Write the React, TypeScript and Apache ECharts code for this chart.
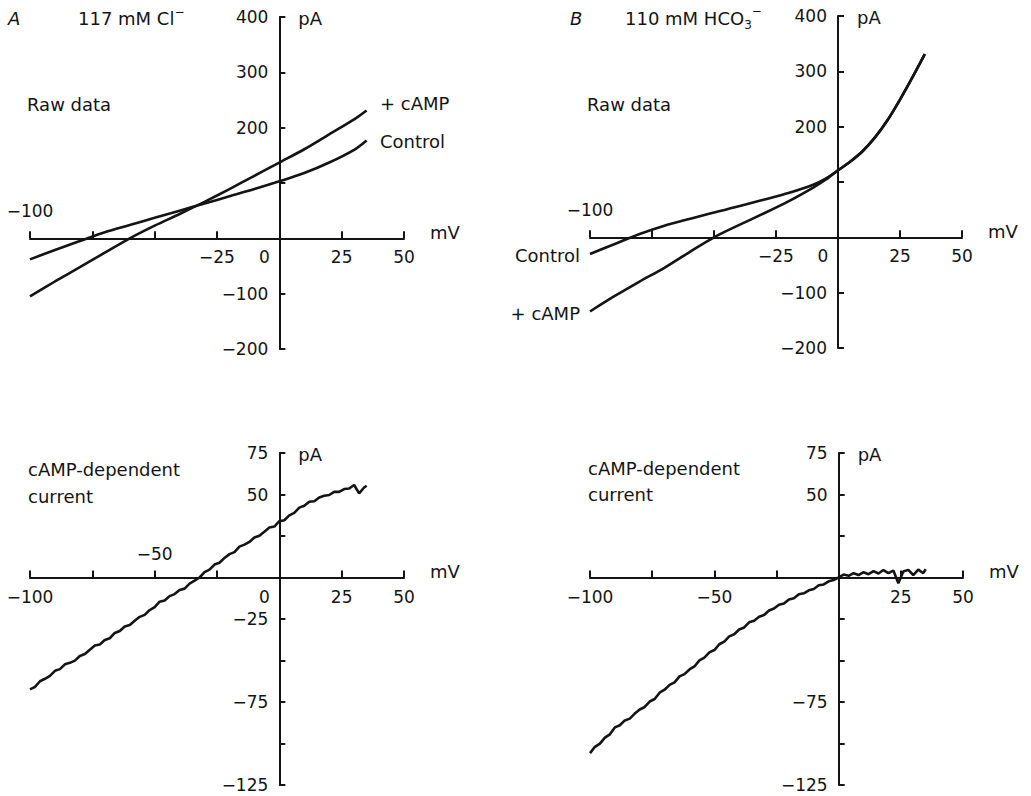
import React, { useEffect, useRef } from 'react';
import * as echarts from 'echarts';

const INK = '#141414';
const FONT = 'DejaVu Sans';

// ---- Panel A, raw data (117 mM Cl−) ----
const aRawV = [-100, -90, -80, -70, -60, -50, -40, -30, -20, -10, 0, 10, 20, 30, 35];
const aControl = [-38, -21, -5, 11, 24, 37, 50, 63, 76, 89, 103, 118, 137, 160, 177];
const aCamp = [-105, -78, -52, -26, 0, 23, 44, 66, 89, 113, 137, 161, 188, 215, 231];

// ---- Panel B, raw data (110 mM HCO3−) ----
const bRawV = [-100, -90, -80, -70, -60, -50, -40, -30, -20, -10, -5, 0, 5, 10, 15, 20, 25, 30, 35];
const bControl = [-30, -12, 6, 21, 33, 45, 56, 68, 80, 95, 106, 121, 137, 156, 181, 212, 249, 289, 331];
const bCamp = [-134, -106, -80, -55, -27, 0, 22, 43, 65, 90, 104, 121, 137, 156, 181, 212, 249, 289, 331];

// ---- cAMP-dependent current (difference traces) ----
const diffV = [
  -100, -98, -96, -94, -92, -90, -88, -86, -84, -82, -80, -78, -76, -74, -72, -70, -68, -66, -64, -62,
  -60, -58, -56, -54, -52, -50, -48, -46, -44, -42, -40, -38, -36, -34, -32, -30, -28, -26, -24, -22,
  -20, -18, -16, -14, -12, -10, -8, -6, -4, -2, 0, 2, 4, 6, 8, 10, 12, 14, 16, 18,
  20, 22, 24, 26, 28, 30, 32, 34, 35,
];
const aDiff = [
  -67.4, -65.9, -62.5, -61.0, -59.3, -56.2, -55.2, -52.3, -51.4, -50.1, -47.3, -46.1, -43.5, -41.0, -40.4, -37.7, -36.6, -33.4, -32.2, -29.5,
  -28.6, -26.0, -23.7, -22.5, -19.6, -17.9, -14.6, -13.9, -11.2, -10.0, -7.5, -6.7, -3.7, -1.9, 0.0, 3.2, 4.7, 7.8, 8.9, 11.8,
  14.1, 15.3, 18.6, 19.8, 21.4, 24.1, 25.2, 27.6, 30.1, 30.7, 33.9, 34.5, 37.4, 38.9, 42.1, 43.2, 45.6, 45.9, 48.2, 49.2,
  49.7, 51.6, 51.6, 53.3, 53.6, 55.7, 50.7, 54.2, 55.3,
];
const bDiff = [
  -105.8, -102.0, -100.1, -96.5, -94.5, -90.3, -89.0, -86.1, -85.0, -82.0, -79.5, -78.0, -74.7, -73.2, -69.4, -67.6, -64.7, -63.2, -59.6, -58.2,
  -55.4, -53.6, -49.9, -48.3, -45.1, -43.7, -40.2, -38.6, -35.5, -34.2, -31.3, -30.1, -27.0, -26.1, -23.6, -22.6, -19.9, -18.7, -16.4, -15.7,
  -13.2, -12.5, -10.1, -9.5, -7.7, -6.9, -4.7, -4.2, -2.3, -1.5, 0.1, 1.8, 1.0, 2.6, 1.5, 3.2, 2.0, 3.8, 2.4, 4.5,
  2.6, 4.2, -3.5, 3.6, 4.6, 1.5, 4.8, 2.6, 5.0,
];

// ---- tick labels ----
const rawYLabels = [400, 300, 200, -100, -200];
const rawXBelow = [-25, 25, 50];
const rawXAbove = [-100];
const aDiffYLabels = [75, 50, -25, -75, -125];
const bDiffYLabels = [75, 50, -75, -125];
const aDiffXBelow = [-100, 25, 50];
const aDiffXAbove = [-50];
const bDiffXBelow = [-100, -50, 25, 50];

function fmt(v: number) {
  return v < 0 ? '\u2212' + Math.abs(v) : String(v);
}
function pairs(xs: number[], ys: number[]) {
  return xs.map((x, i) => [x, ys[i]]);
}

export default function App() {
  const ref = useRef<HTMLDivElement>(null);
  useEffect(() => {
    document.body.style.margin = '0';
    const chart = echarts.init(ref.current!, null, { renderer: 'svg' });
    const lineStyle = { color: INK, width: 2 };

    const xAxis = (gridIndex: number) => ({
      gridIndex,
      type: 'value',
      min: -100,
      max: 50,
      interval: 25,
      axisLine: { show: true, onZero: true, lineStyle },
      axisTick: { show: true, inside: true, length: 7, lineStyle },
      splitLine: { show: false },
      axisLabel: { show: false },
    });
    const yAxis = (gridIndex: number, min: number, max: number, interval: number) => ({
      gridIndex,
      type: 'value',
      min,
      max,
      interval,
      axisLine: { show: true, onZero: true, lineStyle },
      axisTick: { show: true, inside: true, length: 6, lineStyle },
      splitLine: { show: false },
      axisLabel: { show: false },
    });
    const line = (g: number, data: number[][], smooth: number | boolean, width: number) => ({
      type: 'line',
      xAxisIndex: g,
      yAxisIndex: g,
      data,
      showSymbol: false,
      symbol: 'none',
      smooth,
      lineStyle: { color: INK, width },
      z: 3,
    });

    const gridBase = { containLabel: false, outerBoundsMode: 'none' };
    chart.setOption({
      animation: false,
      backgroundColor: '#ffffff',
      grid: [
        { ...gridBase, left: 30, top: 17, width: 374, height: 332 },
        { ...gridBase, left: 590, top: 16, width: 372, height: 332 },
        { ...gridBase, left: 30, top: 453, width: 374, height: 332 },
        { ...gridBase, left: 590, top: 453, width: 373, height: 332 },
      ],
      xAxis: [xAxis(0), xAxis(1), xAxis(2), xAxis(3)],
      yAxis: [yAxis(0, -200, 400, 100), yAxis(1, -200, 400, 100), yAxis(2, -125, 75, 25), yAxis(3, -125, 75, 25)],
      series: [
        line(0, pairs(aRawV, aControl), 0.3, 2.6),
        line(0, pairs(aRawV, aCamp), 0.3, 2.6),
        line(1, pairs(bRawV, bControl), 0.3, 2.6),
        line(1, pairs(bRawV, bCamp), 0.3, 2.6),
        line(2, pairs(diffV, aDiff), false, 2.6),
        line(3, pairs(diffV, bDiff), false, 2.6),
      ],
    });

    const px = (g: number, x: number, y: number) => chart.convertToPixel({ gridIndex: g }, [x, y]) as number[];
    const txt = (x: number, y: number, text: string, align = 'left', size = 18, extra: any = {}) => ({
      type: 'text',
      x,
      y,
      silent: true,
      style: {
        text,
        fill: INK,
        fontFamily: FONT,
        fontSize: size,
        align,
        textAlign: align,
        verticalAlign: 'middle',
        textVerticalAlign: 'middle',
        ...extra,
      },
    });
    const g: any[] = [];

    // tick labels, placed through the axes' scales
    const tickLabels = (gi: number, yLabels: number[], xBelow: number[], xAbove: number[], zeroOffset: boolean, aboveGap: number) => {
      yLabels.forEach((v) => {
        const p = px(gi, 0, v);
        g.push(txt(p[0] - 11, p[1], fmt(v), 'right', 17));
      });
      xBelow.forEach((v) => {
        const p = px(gi, v, 0);
        g.push(txt(p[0], p[1] + 19, fmt(v), 'center', 17));
      });
      xAbove.forEach((v) => {
        const p = px(gi, v, 0);
        g.push(txt(p[0], p[1] - aboveGap, fmt(v), 'center', 17));
      });
      if (zeroOffset) {
        const p = px(gi, 0, 0);
        g.push(txt(p[0] - 15, p[1] + 19, '0', 'center', 17));
      }
    };
    tickLabels(0, rawYLabels, rawXBelow, rawXAbove, true, 27);
    tickLabels(1, rawYLabels, rawXBelow, rawXAbove, true, 27);
    tickLabels(2, aDiffYLabels, aDiffXBelow, aDiffXAbove, true, 24);
    tickLabels(3, bDiffYLabels, bDiffXBelow, [], false, 24);

    // unit labels
    [[0, 400], [1, 400], [2, 75], [3, 75]].forEach(([gi, top]) => {
      const t = px(gi, 0, top);
      g.push(txt(t[0] + 19, t[1] + 1, 'pA', 'left', 18));
      const e = px(gi, 50, 0);
      g.push(txt(e[0] + 26, e[1] - 6, 'mV', 'left', 18));
    });

    // panel titles
    g.push(txt(8, 18, 'A', 'left', 18, { fontStyle: 'italic' }));
    g.push(
      txt(78, 18, '{a|117 mM Cl}{p|\u2212}', 'left', 18, {
        rich: {
          a: { fontFamily: FONT, fontSize: 18, fill: INK, color: INK, lineHeight: 24, verticalAlign: 'middle' },
          p: { fontFamily: FONT, fontSize: 12, fill: INK, color: INK, verticalAlign: 'top' },
        },
      })
    );
    g.push(txt(570, 18, 'B', 'left', 18, { fontStyle: 'italic' }));
    g.push(
      txt(625, 18, '{a|110 mM HCO}{s|3}{p|\u2212}', 'left', 18, {
        rich: {
          a: { fontFamily: FONT, fontSize: 18, fill: INK, color: INK, lineHeight: 26, verticalAlign: 'middle' },
          s: { fontFamily: FONT, fontSize: 12, fill: INK, color: INK, verticalAlign: 'bottom' },
          p: { fontFamily: FONT, fontSize: 12, fill: INK, color: INK, verticalAlign: 'top' },
        },
      })
    );

    // annotations
    g.push(txt(27, 104, 'Raw data'));
    g.push(txt(587, 104, 'Raw data'));
    g.push(txt(380, 103, '+ cAMP'));
    g.push(txt(380, 141, 'Control'));
    g.push(txt(580, 255, 'Control', 'right'));
    g.push(txt(580, 313, '+ cAMP', 'right'));
    g.push(txt(28, 469, 'cAMP-dependent'));
    g.push(txt(28, 496, 'current'));
    g.push(txt(588, 468, 'cAMP-dependent'));
    g.push(txt(588, 494, 'current'));

    chart.setOption({ graphic: g });
    return () => chart.dispose();
  }, []);
  return <div ref={ref} style={{ width: 1031, height: 796 }} />;
}
